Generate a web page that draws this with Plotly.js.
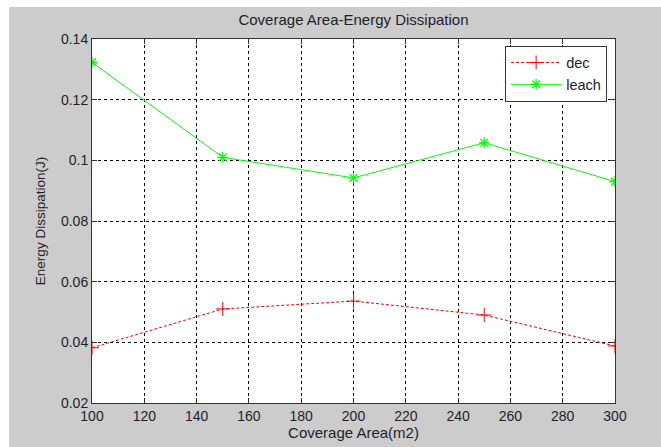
<!DOCTYPE html>
<html>
<head>
<meta charset="utf-8">
<script src="https://cdn.plot.ly/plotly-3.0.1.min.js"></script>
<style>
html,body{margin:0;padding:0;background:#ffffff;}
#chart{position:absolute;left:9px;top:7px;width:652px;height:440px;}
</style>
</head>
<body>
<div id="chart"></div>
<script>
const coverageArea = [100, 150, 200, 250, 300];
const decValues = [0.0382, 0.0510, 0.0536, 0.0490, 0.0388];
const leachValues = [0.1323, 0.1010, 0.0942, 0.1058, 0.0930];
const xTicks = [100, 120, 140, 160, 180, 200, 220, 240, 260, 280, 300];
const yTicks = [0.02, 0.04, 0.06, 0.08, 0.1, 0.12, 0.14];
const yTickText = ['0.02', '0.04', '0.06', '0.08', '0.1', '0.12', '0.14'];

const fontFam = '"Liberation Sans", Arial, sans-serif';
const textColor = '#1e1e2a';

const traces = [
  {
    x: coverageArea, y: decValues, name: 'dec', type: 'scatter', mode: 'lines+markers',
    line: {color: '#ff0000', width: 1, dash: '3px,2px'},
    marker: {symbol: 'cross-thin-open', size: 10, color: '#ff0000', line: {color: '#ff0000', width: 1}}
  },
  {
    x: coverageArea, y: leachValues, name: 'leach', type: 'scatter', mode: 'lines+markers',
    line: {color: '#00ff00', width: 1},
    marker: {symbol: 'asterisk-open', size: 9, color: '#00ff00', line: {color: '#00ff00', width: 1.2}}
  }
];

const axisCommon = {
  showline: true, linecolor: '#333333', linewidth: 1, mirror: 'ticks',
  ticks: 'inside', ticklen: 5, tickcolor: '#333333', tickwidth: 1,
  showgrid: true, gridcolor: '#000000', gridwidth: 1, griddash: 'dot',
  zeroline: false, tickfont: {family: fontFam, size: 14, color: textColor}
};

const layout = {
  width: 652, height: 440,
  paper_bgcolor: '#cccccc', plot_bgcolor: '#ffffff',
  margin: {l: 83, r: 46, t: 32, b: 44},
  font: {family: fontFam, color: textColor},
  title: {text: 'Coverage Area-Energy Dissipation', font: {family: fontFam, size: 15, color: textColor}, x: 0.5, xref: 'paper', y: 0.97, yref: 'container', yanchor: 'middle'},
  xaxis: Object.assign({}, axisCommon, {
    range: [100, 300], tickvals: xTicks, ticktext: xTicks.map(String),
    title: {text: 'Coverage Area(m2)', font: {family: fontFam, size: 15, color: textColor}, standoff: 4}
  }),
  yaxis: Object.assign({}, axisCommon, {
    range: [0.02, 0.14], tickvals: yTicks, ticktext: yTickText,
    title: {text: 'Energy Dissipation(J)', font: {family: fontFam, size: 13.5, color: textColor}, standoff: 12}
  }),
  showlegend: true,
  legend: {
    x: 0.985, xanchor: 'right', y: 0.982, yanchor: 'top',
    bgcolor: '#ffffff', bordercolor: '#333333', borderwidth: 1,
    font: {family: fontFam, size: 14.5, color: textColor},
    itemwidth: 50,
    tracegroupgap: 0
  }
};

Plotly.newPlot('chart', traces, layout, {displayModeBar: false, staticPlot: true});
</script>
</body>
</html>
